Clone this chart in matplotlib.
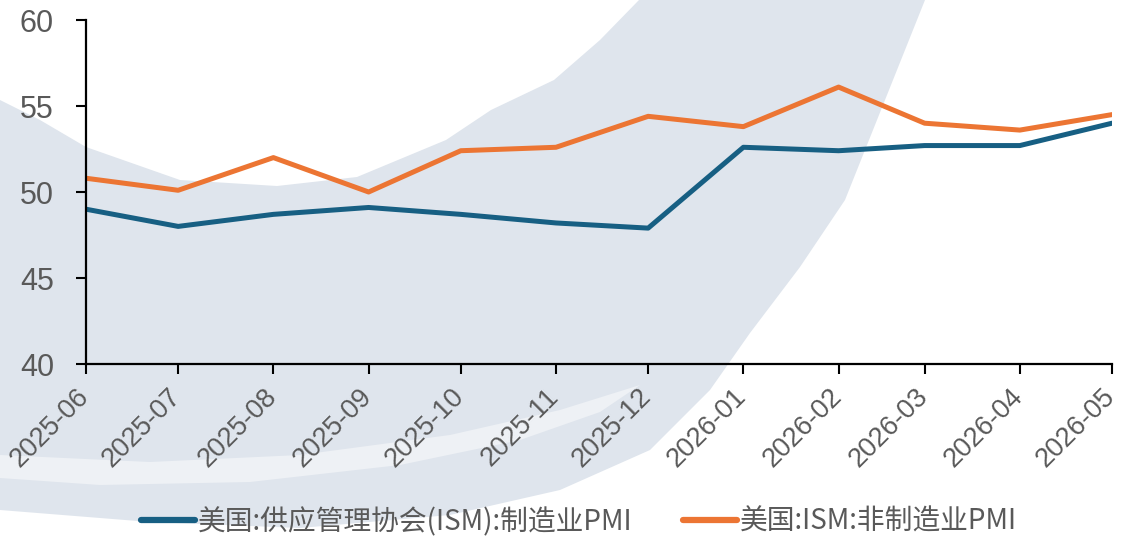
import numpy as np
import pandas as pd
import matplotlib
matplotlib.use('Agg')
import matplotlib.pyplot as plt
import matplotlib.dates as mdates
import matplotlib.transforms as mtransforms
from matplotlib.patches import Polygon

plt.rcParams['font.family'] = ['Noto Sans CJK SC', 'DejaVu Sans']

# data
months = ['2025-06', '2025-07', '2025-08', '2025-09', '2025-10', '2025-11',
          '2025-12', '2026-01', '2026-02', '2026-03', '2026-04', '2026-05']
ism_mfg = [49.0, 48.0, 48.7, 49.1, 48.7, 48.2, 47.9, 52.6, 52.4, 52.7, 52.7, 54.0]
ism_services = [50.8, 50.1, 52.0, 50.0, 52.4, 52.6, 54.4, 53.8, 56.1, 54.0, 53.6, 54.5]
label_mfg = '美国:供应管理协会(ISM):制造业PMI'
label_services = '美国:ISM:非制造业PMI'
y_ticks = [40, 45, 50, 55, 60]

blue = '#175f83'
orange = '#ec7533'
grey_text = '#595959'

W, H = 1122, 536
fig = plt.figure(figsize=(W / 100, H / 100), dpi=100)

# faint brush-stroke backdrop (decoration, in figure pixels)
def px(pts):
    return [(x / W, 1 - y / H) for x, y in pts]

wash = px([(0, 100), (40, 120), (86, 147), (180, 180), (277, 186), (357, 177),
           (446, 140), (491, 110), (554, 80), (600, 40), (639, 0),
           (925, 0), (893, 80), (845, 200), (800, 267), (750, 333),
           (710, 390), (650, 450), (560, 490), (450, 515), (300, 528),
           (150, 522), (0, 510)])
fig.patches.append(Polygon(wash, closed=True, transform=fig.transFigure,
                           facecolor='#dfe5ed', edgecolor='none', zorder=0))
streak = px([(0, 455), (150, 462), (300, 455), (450, 435), (560, 410), (640, 385),
             (600, 412), (520, 440), (400, 465), (250, 482), (100, 485), (0, 478)])
fig.patches.append(Polygon(streak, closed=True, transform=fig.transFigure,
                           facecolor='#eef1f5', edgecolor='none', zorder=0))

ax = fig.add_axes([86 / W, 1 - 364 / H, (1112 - 86) / W, (364 - 20) / H])
ax.patch.set_alpha(0)
ax.set_zorder(2)

dates = pd.to_datetime(months)
ax.plot(dates, ism_mfg, color=blue, lw=3.6, label=label_mfg, solid_capstyle='round')
ax.plot(dates, ism_services, color=orange, lw=3.6, label=label_services, solid_capstyle='round')

ax.set_xlim(dates[0], dates[-1])
ax.set_ylim(40, 60)
ax.set_yticks(y_ticks)
ax.set_xticks(dates)
ax.xaxis.set_major_formatter(mdates.DateFormatter('%Y-%m'))

for s in ['top', 'right']:
    ax.spines[s].set_visible(False)
for s in ['left', 'bottom']:
    ax.spines[s].set_linewidth(1.6)
    ax.spines[s].set_color('black')

ax.tick_params(axis='y', length=7, width=1.5, pad=16, labelsize=22,
               labelcolor=grey_text)
ax.tick_params(axis='x', length=7, width=1.5, pad=7, labelsize=19.5,
               labelcolor=grey_text)
for lab in ax.get_yticklabels():
    lab.set_fontfamily(['Liberation Sans', 'DejaVu Sans'])
shift = mtransforms.ScaledTranslation(-10 / 100, 0, fig.dpi_scale_trans)
for lab in ax.get_xticklabels():
    lab.set_fontfamily(['Liberation Sans', 'DejaVu Sans'])
    lab.set_rotation(45)
    lab.set_ha('right')
    lab.set_va('top')
    lab.set_rotation_mode('anchor')
    lab.set_transform(lab.get_transform() + shift)

leg = fig.legend(loc='center', bbox_to_anchor=(579 / W, 1 - 522 / H), ncol=2,
                 frameon=False, fontsize=20, handlelength=1.95, handletextpad=0.1,
                 columnspacing=1.8, labelcolor=grey_text)
leg.set_zorder(3)
for line in leg.get_lines():
    line.set_linewidth(4.5)

fig.savefig('out.png', dpi=100)
